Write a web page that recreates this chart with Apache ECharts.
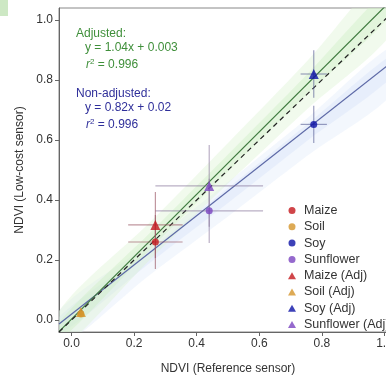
<!DOCTYPE html>
<html>
<head>
<meta charset="utf-8">
<script src="https://cdn.jsdelivr.net/npm/echarts@6/dist/echarts.min.js"></script>
<style>
  html, body { margin: 0; padding: 0; background: #fff; }
  #chart { width: 386px; height: 381px; }
</style>
</head>
<body>
<div id="chart"></div>
<script>
// tick labels
const xTicks = [0, 0.2, 0.4, 0.6, 0.8, 1.0];
const yTicks = [0, 0.2, 0.4, 0.6, 0.8, 1.0];

// points
const crops = ['Maize', 'Soil', 'Soy', 'Sunflower'];
const cropColors = ['#c4161c', '#d4952a', '#0c12a6', '#7a44c0'];
const errColors = ['rgba(150,80,95,0.6)', 'rgba(170,140,90,0.6)', 'rgba(90,95,150,0.6)', 'rgba(130,110,150,0.55)'];
const refX = [0.268, 0.03, 0.774, 0.44];
const rawY = [0.26, 0.02, 0.652, 0.364];
const adjY = [0.317, 0.027, 0.82, 0.447];
const xErr = [0.087, 0.01, 0.042, 0.172];
const rawYErr = [0.09, 0.01, 0.062, 0.107];
const adjYErr = [0.11, 0.012, 0.079, 0.136];

// fitted lines
const lineX = [-0.04, 1.04];
const adjLineY = [-0.039, 1.085];
const rawLineY = [-0.013, 0.873];
const oneToOneY = [-0.04, 1.04];

// confidence bands
const bandX = [-0.04, 0.25, 0.5, 0.75, 1.04];
const adjOuterLo = [-0.1, 0.2, 0.455, 0.7, 0.98];
const adjOuterHi = [0.03, 0.325, 0.59, 0.86, 1.19];
const adjInnerLo = [-0.07, 0.235, 0.495, 0.75, 1.04];
const adjInnerHi = [-0.008, 0.29, 0.552, 0.816, 1.13];
const rawOuterLo = [-0.09, 0.15, 0.345, 0.545, 0.77];
const rawOuterHi = [0.03, 0.255, 0.46, 0.67, 0.92];
const rawInnerLo = [-0.05, 0.19, 0.39, 0.595, 0.825];
const rawInnerHi = [0.01, 0.235, 0.44, 0.65, 0.895];

const chart = echarts.init(document.getElementById('chart'));

function band(lo, hi, color) {
  return {
    type: 'custom',
    silent: true,
    clip: true,
    z: 1,
    data: [[bandX[0], lo[0]]],
    renderItem: function (params, api) {
      const pts = [];
      for (let i = 0; i < bandX.length; i++) pts.push(api.coord([bandX[i], hi[i]]));
      for (let i = bandX.length - 1; i >= 0; i--) pts.push(api.coord([bandX[i], lo[i]]));
      return { type: 'polygon', shape: { points: pts, smooth: 0.3 }, style: { fill: color } };
    }
  };
}

function errorBars(yVals, yErr) {
  return {
    type: 'custom',
    silent: true,
    z: 3,
    data: crops.map((c, i) => [refX[i], yVals[i], xErr[i], yErr[i], i]),
    renderItem: function (params, api) {
      const x = api.value(0), y = api.value(1), xe = api.value(2), ye = api.value(3);
      const col = errColors[api.value(4)];
      const a = api.coord([x - xe, y]), b = api.coord([x + xe, y]);
      const c = api.coord([x, y - ye]), d = api.coord([x, y + ye]);
      return {
        type: 'group',
        children: [
          { type: 'line', shape: { x1: a[0], y1: a[1], x2: b[0], y2: b[1] }, style: { stroke: col, lineWidth: 1.2 } },
          { type: 'line', shape: { x1: c[0], y1: c[1], x2: d[0], y2: d[1] }, style: { stroke: col, lineWidth: 1.2 } }
        ]
      };
    }
  };
}

function fitLine(ys, color, type, width) {
  return {
    type: 'line',
    silent: true,
    showSymbol: false,
    z: 2,
    data: lineX.map((x, i) => [x, ys[i]]),
    lineStyle: { color: color, width: width, type: type }
  };
}

const pointSeries = [];
crops.forEach((c, i) => {
  pointSeries.push({
    name: c, type: 'scatter', symbol: 'circle', symbolSize: 7, z: 5,
    itemStyle: { color: cropColors[i] },
    data: [[refX[i], rawY[i]]]
  });
});
crops.forEach((c, i) => {
  pointSeries.push({
    name: c + ' (Adj)', type: 'scatter', symbol: 'triangle', symbolSize: 10, z: 5,
    itemStyle: { color: cropColors[i] },
    data: [[refX[i], adjY[i]]]
  });
});

const axisCommon = {
  type: 'value',
  min: -0.04,
  max: 1.04,
  nameLocation: 'middle',
  nameTextStyle: { color: '#333', fontSize: 12, fontFamily: 'Liberation Sans' },
  axisLine: { show: true, onZero: false, lineStyle: { color: '#666', width: 1 } },
  splitLine: { show: false }
};

function r2Text(top, color) {
  return {
    type: 'text', left: 86, top: top,
    style: {
      text: '{i|r}{s|2}{n| = 0.996}',
      rich: {
        i: { fontStyle: 'italic', fontSize: 12, fill: color, fontFamily: 'Liberation Sans' },
        s: { fontSize: 8, fill: color, fontFamily: 'Liberation Sans', verticalAlign: 'top', padding: [0, 0, 6, 0] },
        n: { fontSize: 12, fill: color, fontFamily: 'Liberation Sans' }
      }
    }
  };
}

chart.setOption({
  animation: false,
  backgroundColor: '#fff',
  textStyle: { fontFamily: 'Liberation Sans' },
  grid: { left: 59, right: -11, top: 8, bottom: 49, show: true, borderColor: '#888', borderWidth: 1, outerBoundsMode: 'none' },
  xAxis: Object.assign({}, axisCommon, {
    name: 'NDVI (Reference sensor)',
    nameGap: 31,
    axisTick: { customValues: xTicks, length: 4, lineStyle: { color: '#666' } },
    axisLabel: { customValues: xTicks, formatter: v => v.toFixed(1), color: '#333', fontSize: 12, margin: 6 }
  }),
  yAxis: Object.assign({}, axisCommon, {
    name: 'NDVI (Low-cost sensor)',
    nameGap: 32,
    axisTick: { customValues: yTicks, length: 4, lineStyle: { color: '#666' } },
    axisLabel: { customValues: yTicks, formatter: v => v.toFixed(1), color: '#333', fontSize: 12, margin: 6 }
  }),
  legend: {
    orient: 'vertical',
    left: 288,
    top: 204,
    padding: 0,
    itemWidth: 8,
    itemHeight: 7,
    itemGap: 3.3,
    textStyle: { color: '#333', fontSize: 12.5, fontFamily: 'Liberation Sans', padding: [0, 0, 0, 3] },
    data: pointSeries.map(s => s.name)
  },
  graphic: [
    { type: 'rect', left: 0, top: 0, shape: { width: 8, height: 16 }, style: { fill: '#cde8c4' } },
    { type: 'text', left: 76, top: 28, style: { text: 'Adjusted:', fill: '#3f8f3a', fontSize: 12, fontFamily: 'Liberation Sans' } },
    { type: 'text', left: 85, top: 42, style: { text: 'y = 1.04x + 0.003', fill: '#3f8f3a', fontSize: 12, fontFamily: 'Liberation Sans' } },
    r2Text(58, '#3f8f3a'),
    { type: 'text', left: 76, top: 88, style: { text: 'Non-adjusted:', fill: '#2f2f9a', fontSize: 12, fontFamily: 'Liberation Sans' } },
    { type: 'text', left: 85, top: 102, style: { text: 'y = 0.82x + 0.02', fill: '#2f2f9a', fontSize: 12, fontFamily: 'Liberation Sans' } },
    r2Text(118, '#2f2f9a')
  ],
  series: [
    band(rawOuterLo, rawOuterHi, 'rgba(215,228,250,0.3)'),
    band(rawInnerLo, rawInnerHi, 'rgba(205,218,248,0.3)'),
    band(adjOuterLo, adjOuterHi, 'rgba(220,243,210,0.4)'),
    band(adjInnerLo, adjInnerHi, 'rgba(205,238,195,0.4)'),
    fitLine(rawLineY, '#5c68a6', 'solid', 1.3),
    fitLine(adjLineY, '#3f7a3f', 'solid', 1.2),
    fitLine(oneToOneY, '#222', [5, 4], 1.2),
    errorBars(rawY, rawYErr),
    errorBars(adjY, adjYErr)
  ].concat(pointSeries)
});
</script>
</body>
</html>
